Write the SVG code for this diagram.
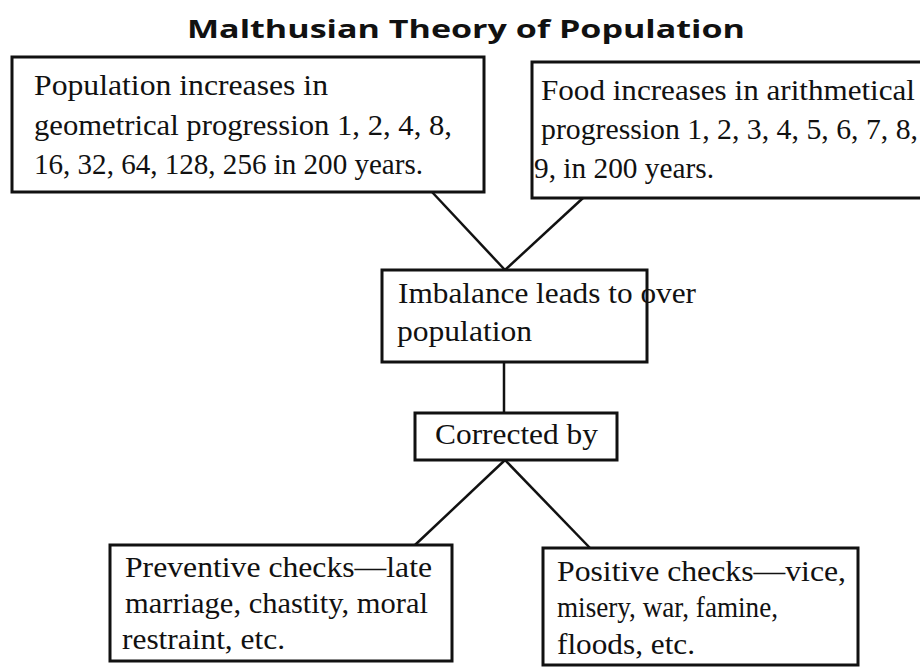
<svg xmlns="http://www.w3.org/2000/svg" width="920" height="669" viewBox="0 0 920 669">
<style>
.box{fill:#fff;stroke:#111;stroke-width:3}
.t{font-family:"Liberation Serif","Times New Roman",serif;font-size:30px;fill:#111}
.title{font-family:"Open Sans","Liberation Sans",Arial,sans-serif;font-weight:bold;font-size:25px;fill:#111}
.c{stroke:#111;stroke-width:2.5;fill:none}
</style>
<rect width="920" height="669" fill="#fff"/>
<text class="title" x="187" y="38" textLength="558" lengthAdjust="spacingAndGlyphs">Malthusian Theory of Population</text>
<g id="connectors">
<line class="c" x1="432" y1="192" x2="505" y2="270"/>
<line class="c" x1="583" y1="198" x2="505" y2="270"/>
<line class="c" x1="504" y1="362" x2="504" y2="413"/>
<line class="c" x1="505" y1="460" x2="415" y2="545"/>
<line class="c" x1="505" y1="460" x2="590" y2="548"/>
</g>
<g id="population">
<rect class="box" x="12" y="57" width="472" height="135"/>
<text class="t" x="34" y="95" textLength="294" lengthAdjust="spacingAndGlyphs">Population increases in</text>
<text class="t" x="34" y="135" textLength="418" lengthAdjust="spacingAndGlyphs">geometrical progression 1, 2, 4, 8,</text>
<text class="t" x="34" y="174" textLength="389" lengthAdjust="spacingAndGlyphs">16, 32, 64, 128, 256 in 200 years.</text>
</g>
<g id="food">
<rect class="box" x="532" y="62" width="400" height="136"/>
<text class="t" x="541" y="100" textLength="374" lengthAdjust="spacingAndGlyphs">Food increases in arithmetical</text>
<text class="t" x="541" y="139" textLength="377" lengthAdjust="spacingAndGlyphs">progression 1, 2, 3, 4, 5, 6, 7, 8,</text>
<text class="t" x="534" y="178" textLength="180" lengthAdjust="spacingAndGlyphs">9, in 200 years.</text>
</g>
<g id="imbalance">
<rect class="box" x="382" y="270" width="265" height="92"/>
<text class="t" x="398" y="303" textLength="298" lengthAdjust="spacingAndGlyphs">Imbalance leads to over</text>
<text class="t" x="397" y="341" textLength="135" lengthAdjust="spacingAndGlyphs">population</text>
</g>
<g id="corrected">
<rect class="box" x="415" y="413" width="202" height="47"/>
<text class="t" x="435" y="444" textLength="163" lengthAdjust="spacingAndGlyphs">Corrected by</text>
</g>
<g id="preventive">
<rect class="box" x="110" y="545" width="342" height="116"/>
<text class="t" x="125" y="577" textLength="307" lengthAdjust="spacingAndGlyphs">Preventive checks—late</text>
<text class="t" x="125" y="613" textLength="303" lengthAdjust="spacingAndGlyphs">marriage, chastity, moral</text>
<text class="t" x="122" y="649" textLength="163" lengthAdjust="spacingAndGlyphs">restraint, etc.</text>
</g>
<g id="positive">
<rect class="box" x="543" y="548" width="315" height="117"/>
<text class="t" x="557" y="581" textLength="289" lengthAdjust="spacingAndGlyphs">Positive checks—vice,</text>
<text class="t" x="557" y="617" textLength="221" lengthAdjust="spacingAndGlyphs">misery, war, famine,</text>
<text class="t" x="557" y="654" textLength="138" lengthAdjust="spacingAndGlyphs">floods, etc.</text>
</g>
</svg>
